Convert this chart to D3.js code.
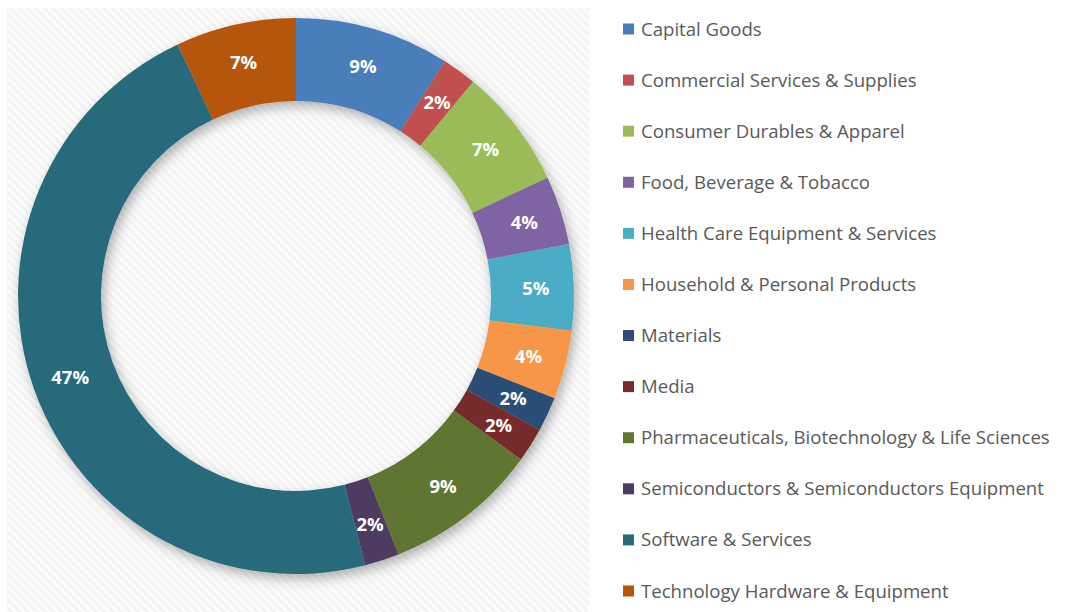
<!DOCTYPE html>
<html>
<head>
<meta charset="utf-8">
<script src="https://cdn.jsdelivr.net/npm/d3@7"></script>
<style>
  html, body { margin: 0; padding: 0; background: #ffffff; }
  svg { display: block; }
</style>
</head>
<body>
<svg id="chart" width="1066" height="612"></svg>
<script>
// Industry breakdown (share of total, %)
const categories = [
  "Capital Goods",
  "Commercial Services & Supplies",
  "Consumer Durables & Apparel",
  "Food, Beverage & Tobacco",
  "Health Care Equipment & Services",
  "Household & Personal Products",
  "Materials",
  "Media",
  "Pharmaceuticals, Biotechnology & Life Sciences",
  "Semiconductors & Semiconductors Equipment",
  "Software & Services",
  "Technology Hardware & Equipment"
];
const shares = [9, 2, 7, 4, 5, 4, 2, 2, 9, 2, 47, 7];
const palette = [
  "#4a7ebb", "#c0504d", "#9bbb59", "#8064a2", "#4bacc6", "#f79646",
  "#2c4d75", "#772c2a", "#5f7530", "#4d3b62", "#276a7c", "#b65708"
];

const W = 1066, H = 612;
const cx = 296, cy = 296;
const outerR = 278, innerR = 195;

const svg = d3.select("#chart");
const defs = svg.append("defs");

// faint diagonal hatching behind the plot
const pat = defs.append("pattern")
  .attr("id", "hatch")
  .attr("patternUnits", "userSpaceOnUse")
  .attr("width", 6).attr("height", 6)
  .attr("patternTransform", "rotate(-45)");
pat.append("rect").attr("width", 6).attr("height", 6).attr("fill", "#fcfcfc");
pat.append("rect").attr("width", 3).attr("height", 6).attr("fill", "#f3f3f3");

const shadow = defs.append("filter")
  .attr("id", "ringShadow")
  .attr("x", "-20%").attr("y", "-20%")
  .attr("width", "140%").attr("height", "140%");
shadow.append("feDropShadow")
  .attr("dx", 3).attr("dy", 5)
  .attr("stdDeviation", 6)
  .attr("flood-color", "#000")
  .attr("flood-opacity", 0.3);

svg.append("rect")
  .attr("x", 7).attr("y", 8)
  .attr("width", 582).attr("height", H - 8)
  .attr("fill", "url(#hatch)");

const color = d3.scaleOrdinal().domain(categories).range(palette);

const pie = d3.pie()
  .value(d => d.value)
  .sort(null)
  .startAngle(0)
  .endAngle(2 * Math.PI);

const data = categories.map((c, i) => ({ name: c, value: shares[i] }));
const arcs = pie(data);

const arc = d3.arc().innerRadius(innerR).outerRadius(outerR);
const labelArc = d3.arc().innerRadius(240).outerRadius(240);

const g = svg.append("g").attr("transform", `translate(${cx},${cy})`);

g.append("g")
  .attr("filter", "url(#ringShadow)")
  .selectAll("path")
  .data(arcs)
  .join("path")
  .attr("d", arc)
  .attr("fill", d => color(d.data.name));

g.append("g")
  .selectAll("text")
  .data(arcs)
  .join("text")
  .attr("transform", d => `translate(${labelArc.centroid(d)})`)
  .attr("text-anchor", "middle")
  .attr("dy", "0.38em")
  .attr("font-family", "'Open Sans', sans-serif")
  .attr("font-weight", 700)
  .attr("font-size", 18.5)
  .attr("fill", "#ffffff")
  .text(d => d.data.value + "%");

// legend
const legendY = d3.scalePoint()
  .domain(categories)
  .range([29, 591]);

const legend = svg.append("g")
  .selectAll("g")
  .data(categories)
  .join("g")
  .attr("transform", d => `translate(623,${legendY(d)})`);

legend.append("rect")
  .attr("x", 0).attr("y", -5.5)
  .attr("width", 11).attr("height", 11)
  .attr("fill", d => color(d));

legend.append("text")
  .attr("x", 18)
  .attr("dy", "0.35em")
  .attr("font-family", "'Open Sans', sans-serif")
  .attr("font-size", 18.6)
  .attr("fill", "#595959")
  .text(d => d);
</script>
</body>
</html>
